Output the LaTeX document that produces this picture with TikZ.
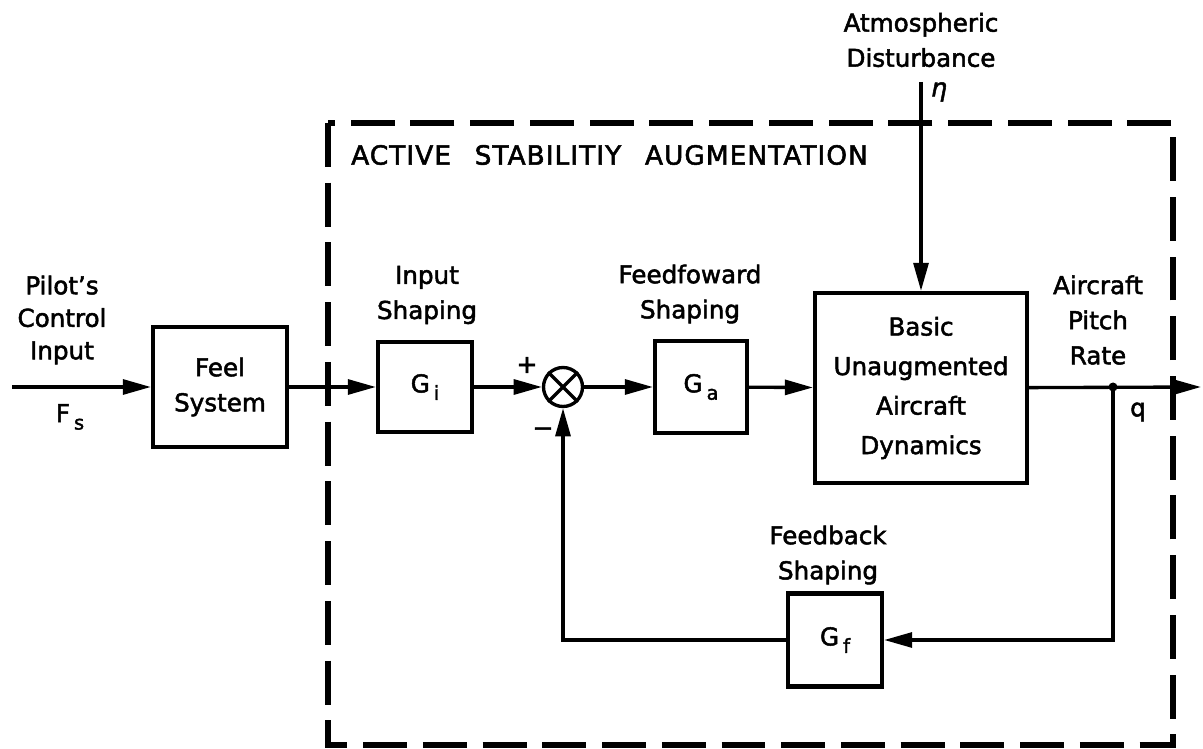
\documentclass[tikz,border=0pt]{standalone}
\usepackage{fontspec}
\setmainfont{DejaVu Sans}[FakeBold=2]
\newfontfamily\widecaps{DejaVu Sans}[FakeBold=2, LetterSpace=4]
\usepackage{tikz}
\usetikzlibrary{arrows.meta}
\newcommand{\gsub}[2]{#1\,\raisebox{-0.55ex}{\fontsize{11}{11}\selectfont #2}}

\begin{document}
\begin{tikzpicture}[x=0.02cm, y=-0.02cm,
  font=\fontsize{14}{20}\selectfont,
  block/.style={draw, line width=2.4pt, align=center, inner sep=0pt},
  label/.style={align=center},
  rel/.style={line width=1.9pt},
  arr/.style={rel, -{Triangle[length=16pt, width=8.5pt]}}
]
  \useasboundingbox (0,0) rectangle (1203,749);
  % augmentation boundary
  \draw[line width=3.2pt, dash pattern=on 25pt off 9pt] (328,123) rectangle (1173,745);
  \node[anchor=west, font=\widecaps\fontsize{15}{18}\selectfont] (title) at (345,155) {ACTIVE\hspace{0.9em}STABILITIY\hspace{0.9em}AUGMENTATION};

  \node[block, minimum width=2.68cm, minimum height=2.4cm] (feel) at (220,387) {Feel\\System};
  \node[block, minimum width=1.88cm, minimum height=1.8cm] (gi) at (425,387) {\gsub{G}{i}};
  \node[draw, circle, line width=1.9pt, minimum size=0.78cm, inner sep=0pt] (sum) at (563,387) {};
  \draw[rel] (sum.north west) -- (sum.south east) (sum.north east) -- (sum.south west);
  \node[block, minimum width=1.84cm, minimum height=1.84cm] (ga) at (701,387) {\gsub{G}{a}};
  \node[block, minimum width=4.24cm, minimum height=3.8cm, font=\fontsize{14}{22.5}\selectfont] (plant) at (921,388) {Basic\\Unaugmented\\Aircraft\\Dynamics};
  \node[block, minimum width=1.88cm, minimum height=1.86cm] (gf) at (835,640) {\gsub{G}{f}};

  \coordinate (pilot) at (12,387);
  \coordinate (gust) at (921,82);
  \coordinate (tap) at (1113,387);
  \coordinate (out) at (1201,387);

  % labels
  \node[label, font=\fontsize{14}{18.5}\selectfont] (pilotlbl) at (62,320) {Pilot's\\Control\\Input};
  \node (fs) at (70,417) {\gsub{F}{s}};
  \node[label] (gilbl) at (427,295) {Input\\Shaping};
  \node[font=\Large] (plus) at (527,365) {+};
  \node[font=\Large] (minus) at (543,432) {−};
  \node[label] (galbl) at (690,294) {Feedfoward\\Shaping};
  \node[label] (gustlbl) at (921,40) {Atmospheric\\Disturbance};
  \node[font=\Large\itshape] (eta) at (939,92) {η};
  \node[label] (outlbl) at (1098,320) {Aircraft\\Pitch\\Rate};
  \node (q) at (1138,412) {q};
  \node[label] (gflbl) at (828,555) {Feedback\\Shaping};

  % signal flow
  \draw[arr] (pilot) -- (feel);
  \draw[arr] (feel) -- (gi);
  \draw[arr] (gi) -- (sum);
  \draw[arr] (sum) -- (ga);
  \draw[arr] (ga) -- (plant);
  \draw[arr] (gust) -- (plant);
  \draw[arr] (plant) -- (out);
  \draw[arr] (tap) |- (gf);
  \draw[arr] (gf) -| (sum);
  \fill (tap) circle (4.5);
\end{tikzpicture}
\end{document}
